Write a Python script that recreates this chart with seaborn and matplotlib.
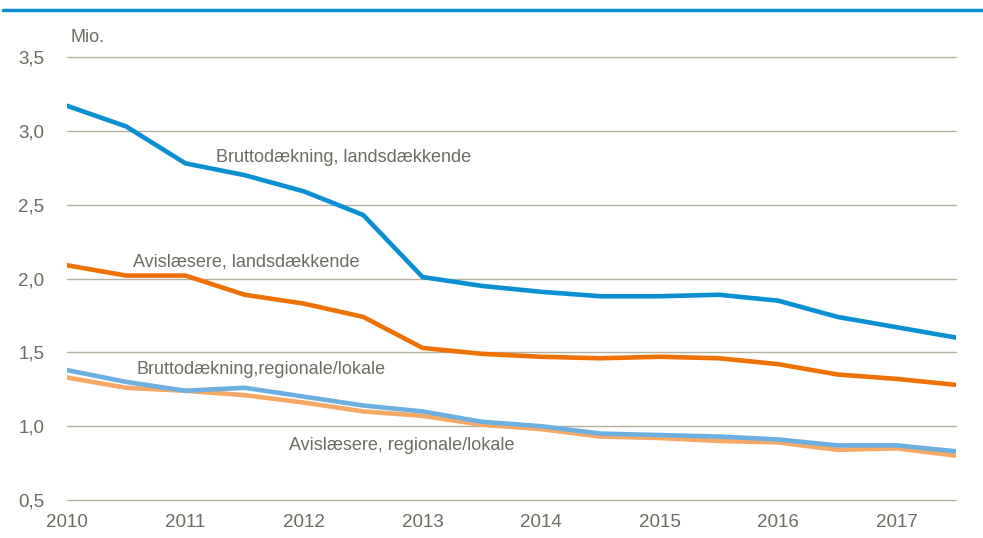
import seaborn as sns
import matplotlib.pyplot as plt
import matplotlib.ticker as mticker
from matplotlib.lines import Line2D
import pandas as pd

# half-year points 2010 - 2017.5
years = [2010, 2010.5, 2011, 2011.5, 2012, 2012.5, 2013, 2013.5,
         2014, 2014.5, 2015, 2015.5, 2016, 2016.5, 2017, 2017.5]

brutto_lands = [3.17, 3.03, 2.78, 2.70, 2.59, 2.43, 2.01, 1.95,
                1.91, 1.88, 1.88, 1.89, 1.85, 1.74, 1.67, 1.60]
laesere_lands = [2.09, 2.02, 2.02, 1.89, 1.83, 1.74, 1.53, 1.49,
                 1.47, 1.46, 1.47, 1.46, 1.42, 1.35, 1.32, 1.28]
brutto_reg = [1.38, 1.30, 1.24, 1.26, 1.20, 1.14, 1.10, 1.03,
              1.00, 0.95, 0.94, 0.93, 0.91, 0.87, 0.87, 0.83]
laesere_reg = [1.33, 1.26, 1.24, 1.21, 1.16, 1.10, 1.07, 1.01,
               0.98, 0.93, 0.92, 0.90, 0.89, 0.84, 0.85, 0.80]

series = ['Bruttodækning, landsdækkende', 'Avislæsere, landsdækkende',
          'Bruttodækning,regionale/lokale', 'Avislæsere, regionale/lokale']
colors = ['#0a8fd2', '#ee7203', '#6cb0e2', '#f6a865']

df = pd.concat([
    pd.DataFrame({'year': years, 'value': v, 'serie': s})
    for v, s in zip([brutto_lands, laesere_lands, brutto_reg, laesere_reg], series)
])

sns.set_style('white')
plt.rcParams['font.family'] = ['Liberation Sans', 'DejaVu Sans']
textcol = '#6e6b60'
gridcol = '#b3b09f'

fig = plt.figure(figsize=(9.83, 5.38), dpi=100)
ax = fig.add_axes([0.068, 0.0706, 0.9046, 0.8234])

# light lines first so the darker ones sit on top
order = [3, 2, 1, 0]
sns.lineplot(data=df, x='year', y='value', hue='serie', hue_order=[series[i] for i in order],
             palette=[colors[i] for i in order], linewidth=3.3, legend=False, ax=ax,
             zorder=3)

ax.set_xlim(2010, 2017.5)
ax.set_ylim(0.5, 3.5)
ax.set_yticks([0.5, 1.0, 1.5, 2.0, 2.5, 3.0, 3.5])
ax.yaxis.set_major_formatter(mticker.FuncFormatter(lambda v, p: f'{v:.1f}'.replace('.', ',')))
ax.set_xticks(range(2010, 2018))
ax.grid(axis='y', color=gridcol, linewidth=1)
ax.grid(axis='x', visible=False)
for gl in ax.get_ygridlines():
    gl.set_clip_on(False)
for s in ax.spines.values():
    s.set_visible(False)
ax.tick_params(axis='both', length=0, labelsize=13.5, labelcolor=textcol)
ax.tick_params(axis='y', pad=16)
ax.tick_params(axis='x', pad=10)
ax.set_xlabel('')
ax.set_ylabel('')

ax.text(2010.03, 3.63, 'Mio.', color=textcol, fontsize=13, va='center', clip_on=False)
ax.text(2011.26, 2.82, series[0], color=textcol, fontsize=13, va='center')
ax.text(2010.56, 2.115, series[1], color=textcol, fontsize=13, va='center')
ax.text(2010.59, 1.385, series[2], color=textcol, fontsize=13, va='center')
ax.text(2011.87, 0.87, series[3], color=textcol, fontsize=13, va='center')

fig.add_artist(Line2D([0.003, 1.0], [0.982, 0.982], color='#0a8fd2', linewidth=2.5,
                      transform=fig.transFigure))

fig.savefig('out.png', dpi=100)
